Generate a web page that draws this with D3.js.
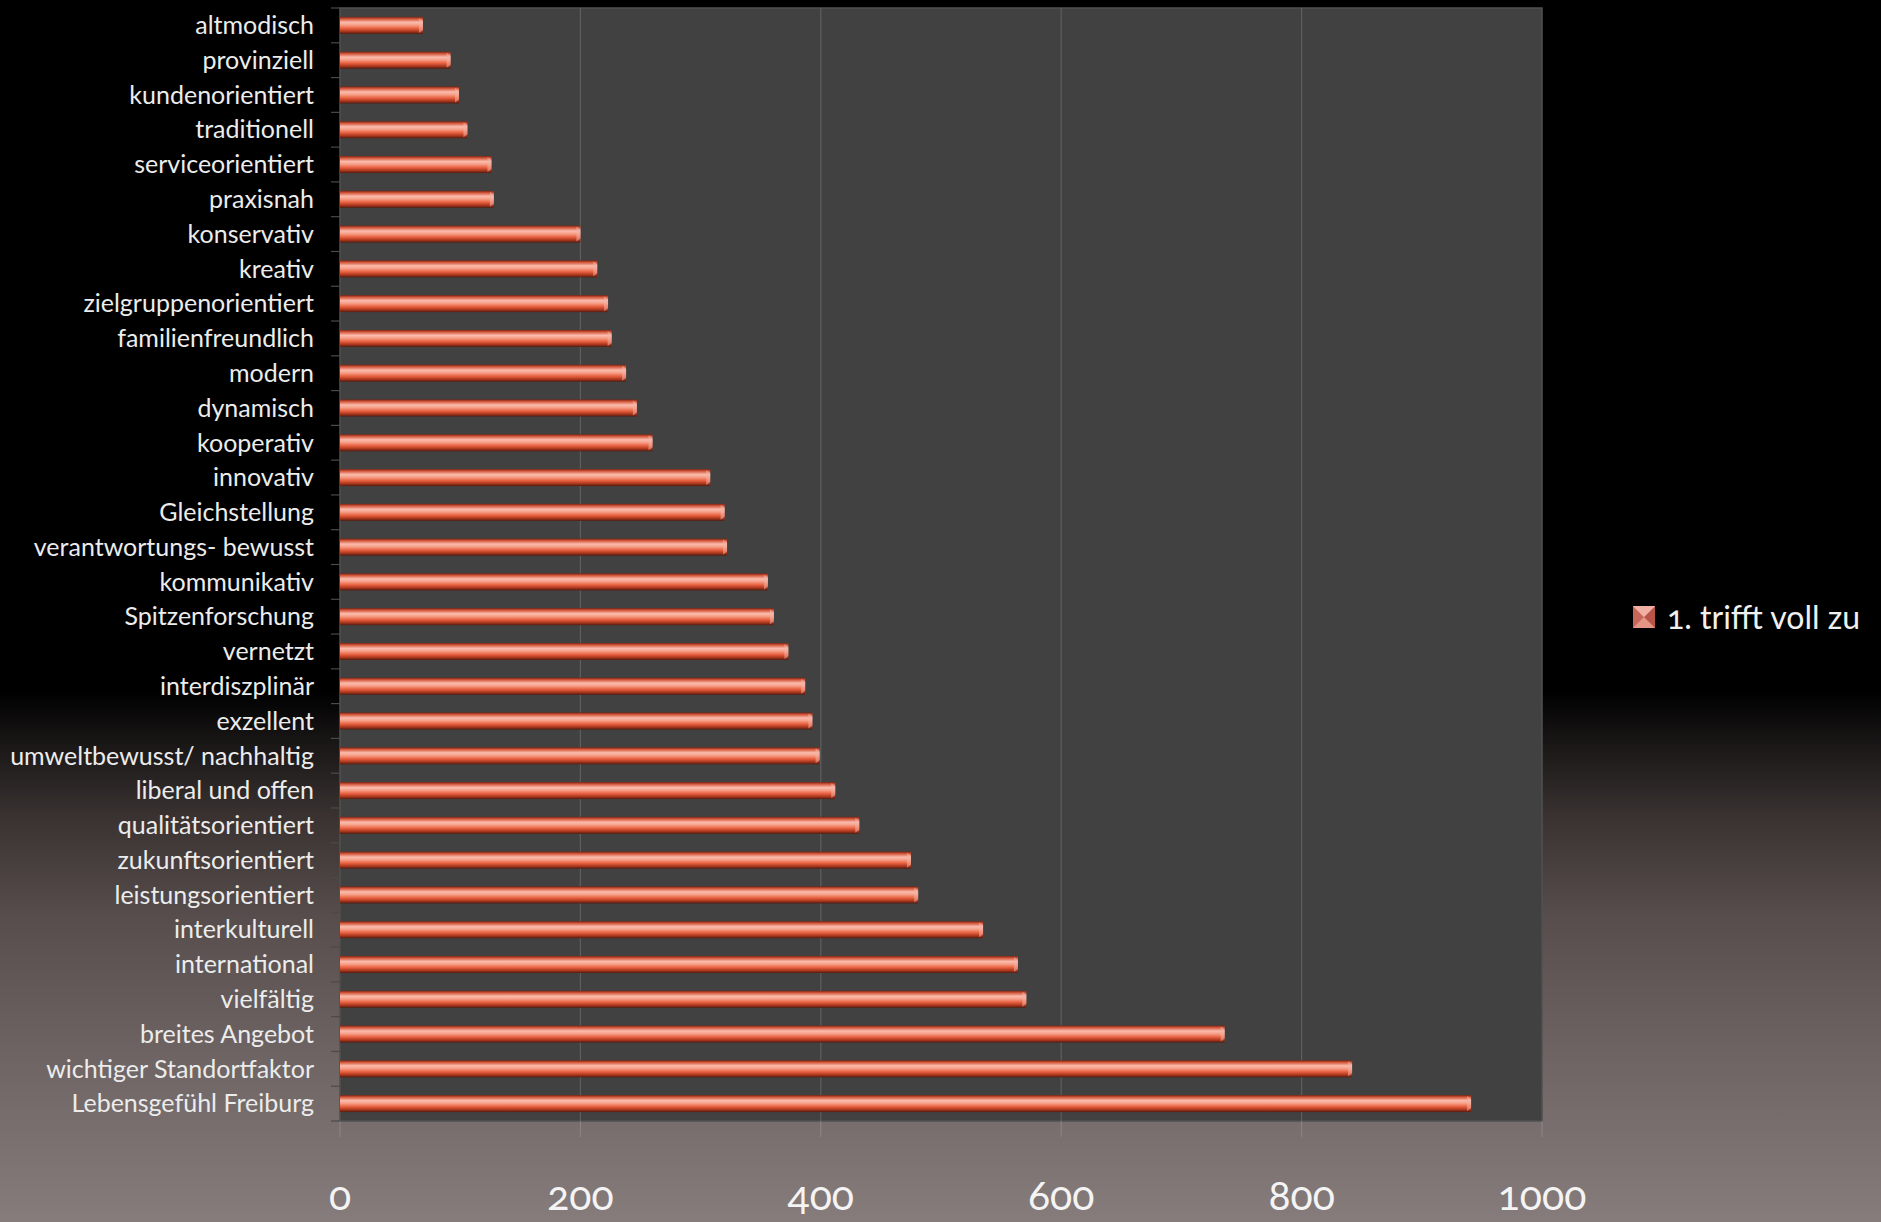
<!DOCTYPE html>
<html>
<head>
<meta charset="utf-8">
<script src="https://cdn.jsdelivr.net/npm/d3@7"></script>
<style>
  html, body { margin: 0; padding: 0; background: #000; }
  svg { display: block; }
  text { font-family: Lato, "Noto Sans", sans-serif; font-variant-numeric: oldstyle-nums; }
</style>
</head>
<body>
<svg id="chart" width="1881" height="1222"></svg>
<script>
// Survey answers: how many respondents said the attribute "fully applies"
const categories = [
  "altmodisch", "provinziell", "kundenorientiert", "traditionell", "serviceorientiert",
  "praxisnah", "konservativ", "kreativ", "zielgruppenorientiert", "familienfreundlich",
  "modern", "dynamisch", "kooperativ", "innovativ", "Gleichstellung",
  "verantwortungs- bewusst", "kommunikativ", "Spitzenforschung", "vernetzt", "interdiszplinär",
  "exzellent", "umweltbewusst/ nachhaltig", "liberal und offen", "qualitätsorientiert",
  "zukunftsorientiert", "leistungsorientiert", "interkulturell", "international",
  "vielfältig", "breites Angebot", "wichtiger Standortfaktor", "Lebensgefühl Freiburg"
];
const values = [
  69, 92, 99, 106, 126,
  128, 200, 214, 223, 226,
  238, 247, 260, 308, 320,
  322, 356, 361, 373, 387,
  393, 399, 412, 432,
  475, 481, 535, 564,
  571, 736, 842, 941
];
const xTicks = [0, 200, 400, 600, 800, 1000];
const seriesName = "1. trifft voll zu";

const W = 1881, H = 1222;
const plot = { left: 340, right: 1542, top: 8, bottom: 1121 };

const svg = d3.select("#chart");
const defs = svg.append("defs");

// page background: black, fading into a warm grey towards the bottom
const bg = defs.append("linearGradient").attr("id", "bg")
  .attr("x1", 0).attr("y1", 0).attr("x2", 0).attr("y2", 1);
[[0, "#000"], [0.565, "#000"], [0.61, "#1a1717"], [0.67, "#3a3332"],
 [0.75, "#564d4c"], [0.87, "#6f6564"], [1, "#867c7b"]]
  .forEach(([o, c]) => bg.append("stop").attr("offset", o).attr("stop-color", c));

// cylindrical shading of the bars
const barGrad = defs.append("linearGradient").attr("id", "barGrad")
  .attr("x1", 0).attr("y1", 0).attr("x2", 0).attr("y2", 1);
[[0, "#7a2414"], [0.12, "#d4563a"], [0.32, "#fbbcad"], [0.48, "#f69f88"],
 [0.68, "#e8603f"], [0.86, "#a8361d"], [1, "#521b10"]]
  .forEach(([o, c]) => barGrad.append("stop").attr("offset", o).attr("stop-color", c));

svg.append("rect").attr("width", W).attr("height", H).attr("fill", "url(#bg)");

const x = d3.scaleLinear().domain([0, 1000]).range([plot.left, plot.right]);
const y = d3.scaleBand().domain(categories).range([plot.top, plot.bottom]).padding(0);

// plot area
svg.append("rect")
  .attr("x", plot.left).attr("y", plot.top)
  .attr("width", plot.right - plot.left).attr("height", plot.bottom - plot.top)
  .attr("fill", "#414141").attr("stroke", "#505050").attr("stroke-width", 1.5);

// vertical gridlines with ticks hanging below the plot
const grid = svg.append("g");
grid.selectAll("line.grid").data(xTicks.slice(1, -1)).join("line")
  .attr("class", "grid")
  .attr("x1", d => x(d)).attr("x2", d => x(d))
  .attr("y1", plot.top).attr("y2", plot.bottom)
  .attr("stroke", "#5e5e5e").attr("stroke-width", 1.2);
grid.selectAll("line.tick").data(xTicks).join("line")
  .attr("class", "tick")
  .attr("x1", d => x(d)).attr("x2", d => x(d))
  .attr("y1", plot.bottom).attr("y2", plot.bottom + 16)
  .attr("stroke", "#8e8585").attr("stroke-width", 1);

// category axis ticks between bands
const bounds = categories.map(c => y(c)).concat([plot.bottom]);
svg.append("g").selectAll("line").data(bounds).join("line")
  .attr("x1", plot.left - 9).attr("x2", plot.left)
  .attr("y1", d => d).attr("y2", d => d)
  .attr("stroke", "#4a4a4a").attr("stroke-width", 1.2);

// bars
const barH = 17;
const bars = svg.append("g");
bars.selectAll("rect").data(values).join("rect")
  .attr("x", x(0))
  .attr("y", (d, i) => y(categories[i]) + y.bandwidth() / 2 - barH / 2)
  .attr("width", d => x(d) - x(0))
  .attr("height", barH)
  .attr("fill", "url(#barGrad)");
// bevelled bar ends
bars.selectAll("polygon").data(values).join("polygon")
  .attr("points", (d, i) => {
    const xe = x(d), t = y(categories[i]) + y.bandwidth() / 2 - barH / 2, b = t + barH;
    return [[xe - 4, t + 1], [xe, t + 4], [xe, b - 4], [xe - 4, b - 1]].map(p => p.join(",")).join(" ");
  })
  .attr("fill", "#f2b2a6").attr("opacity", 0.55);

// category labels
svg.append("g").selectAll("text").data(categories).join("text")
  .attr("x", plot.left - 26)
  .attr("y", d => y(d) + y.bandwidth() / 2)
  .attr("dy", "0.35em")
  .attr("text-anchor", "end")
  .attr("fill", "#ececec")
  .attr("font-size", 25)
  .text(d => d);

// value axis labels
svg.append("g").selectAll("text").data(xTicks).join("text")
  .attr("x", d => x(d))
  .attr("y", 1210)
  .attr("text-anchor", "middle")
  .attr("fill", "#f4f4f4")
  .attr("font-size", 41)
  .text(d => d);

// legend
const lg = svg.append("g").attr("transform", "translate(1633,606)");
const s = 22;
lg.append("rect").attr("width", s).attr("height", s).attr("fill", "#e59585");
lg.append("polygon").attr("points", `0,0 ${s / 2},${s / 2} 0,${s}`).attr("fill", "#c8665a");
lg.append("polygon").attr("points", `${s},0 ${s / 2},${s / 2} ${s},${s}`).attr("fill", "#b85548");
lg.append("polygon").attr("points", `0,0 ${s},0 ${s / 2},${s / 2}`).attr("fill", "#f0b0a4");
lg.append("text")
  .attr("x", 34).attr("y", s / 2).attr("dy", "0.36em")
  .attr("fill", "#f0f0f0").attr("font-size", 32)
  .text(seriesName);
</script>
</body>
</html>
